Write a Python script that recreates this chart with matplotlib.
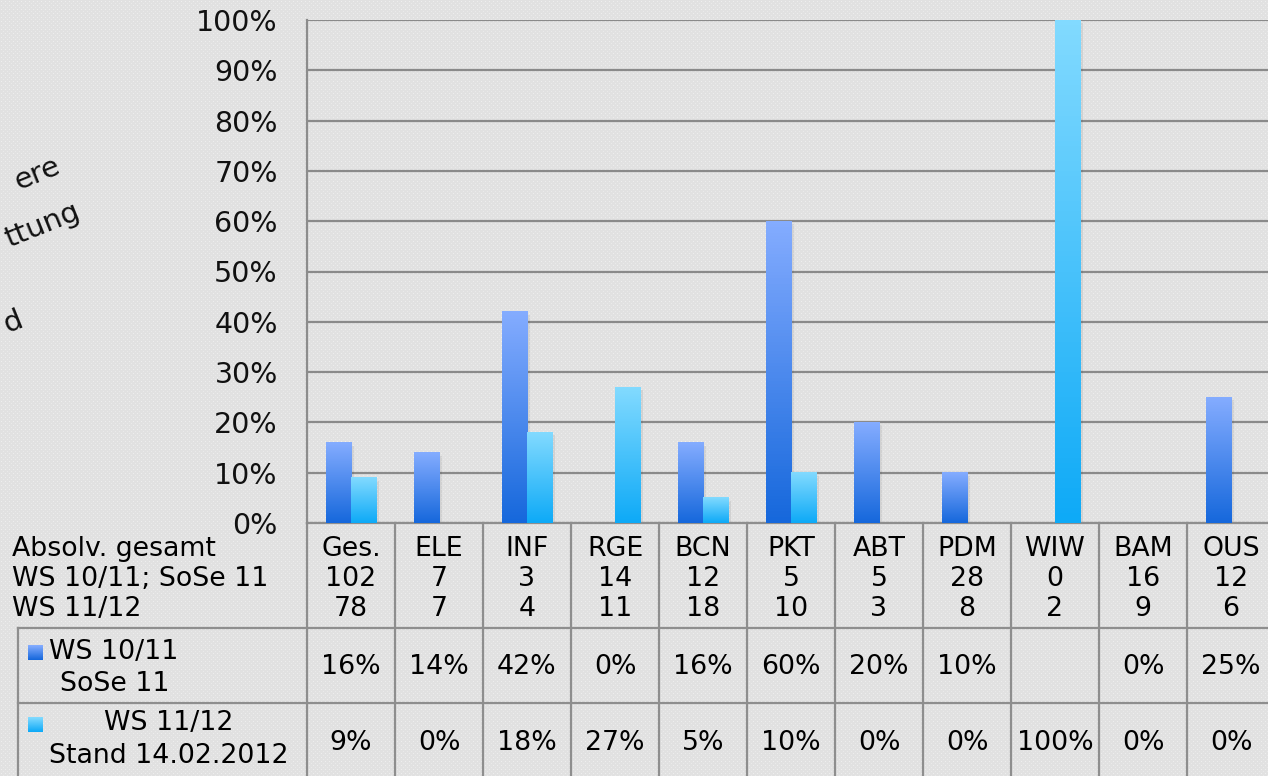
import numpy as np
import matplotlib
matplotlib.use("Agg")
import matplotlib.pyplot as plt
import matplotlib.transforms as mtrans

plt.rcParams['font.family'] = ['DejaVu Sans']

# data
cats = ['Ges.', 'ELE', 'INF', 'RGE', 'BCN', 'PKT', 'ABT', 'PDM', 'WIW', 'BAM', 'OUS']
count_ws1011 = [102, 7, 3, 14, 12, 5, 5, 28, 0, 16, 12]
count_ws1112 = [78, 7, 4, 11, 18, 10, 3, 8, 2, 9, 6]
pct_ws1011 = [16, 14, 42, 0, 16, 60, 20, 10, None, 0, 25]
pct_ws1112 = [9, 0, 18, 27, 5, 10, 0, 0, 100, 0, 0]
yticks = list(range(0, 101, 10))

W, H = 1268, 776
fig = plt.figure(figsize=(W / 100, H / 100), dpi=100)
fig.patch.set_facecolor('#e4e4e4')

# dotted background texture
bg = np.full((H, W, 3), 0.885)
bg[1::4, 1::4] = 0.935
bg[3::4, 3::4] = 0.92
fig.figimage(bg, 0, 0, zorder=-10)

# main axes (extends past right edge like the original slide)
ax = fig.add_axes([307 / W, 1 - 523 / H, 968 / W, 503 / H])
ax.set_zorder(2)
ax.patch.set_alpha(0)
ax.set_xlim(0, len(cats))
ax.set_ylim(0, 100)
ax.set_yticks(yticks)
ax.set_yticklabels([f'{v}%' for v in yticks], fontsize=20.5, color='#111111')
ax.tick_params(axis='y', length=0, pad=21)
ax.set_xticks([])
for s in ['top', 'right', 'bottom']:
    ax.spines[s].set_visible(False)
ax.spines['left'].set_color('#8c8c8c')
ax.spines['left'].set_linewidth(1.6)
ax.grid(axis='y', color='#8a8a8a', linewidth=1.6, zorder=1)
ax.set_axisbelow(True)

bw = 0.286
dark_grad = ['#1668dc', '#84acff']
light_grad = ['#0eaaf7', '#82daff']


def grad_bar(x0, h, cols):
    if not h:
        return
    cmap = matplotlib.colors.LinearSegmentedColormap.from_list('g', cols)
    # soft shadow
    ax.add_patch(plt.Rectangle((x0 + 0.03, -0.6), bw, h, color='#000000',
                               alpha=0.07, lw=0, zorder=2))
    ax.imshow(np.linspace(0, 1, 100).reshape(-1, 1), cmap=cmap, origin='lower',
              extent=(x0, x0 + bw, 0, h), aspect='auto', zorder=3)


for i in range(len(cats)):
    c = i + 0.5
    grad_bar(c - bw, pct_ws1011[i], dark_grad)
    grad_bar(c, pct_ws1112[i], light_grad)
ax.set_xlim(0, len(cats))
ax.set_ylim(0, 100)

# table below chart
tr = mtrans.blended_transform_factory(ax.transData, ax.transAxes)
trf = mtrans.blended_transform_factory(fig.transFigure, ax.transAxes)
lc = '#8e8e8e'
y_ax = lambda p: (523 - p) / 503.0

ax.plot([0, len(cats)], [0, 0], transform=tr, color=lc, lw=1.6, clip_on=False)
for y in [628, 703]:
    ax.plot([18 / W, 1], [y_ax(y), y_ax(y)], transform=trf, color=lc, lw=1.6, clip_on=False)
ax.plot([18 / W, 18 / W], [y_ax(628), y_ax(776)], transform=trf, color=lc, lw=1.6, clip_on=False)
for k in range(len(cats) + 1):
    ax.plot([k, k], [0, y_ax(776)], transform=tr, color=lc, lw=1.6, clip_on=False)

fs = 19.3
for i in range(len(cats)):
    c = i + 0.5
    ax.text(c, y_ax(549), cats[i], transform=tr, ha='center', va='center', fontsize=fs)
    ax.text(c, y_ax(579), str(count_ws1011[i]), transform=tr, ha='center', va='center', fontsize=fs)
    ax.text(c, y_ax(609), str(count_ws1112[i]), transform=tr, ha='center', va='center', fontsize=fs)
    if pct_ws1011[i] is not None:
        ax.text(c, y_ax(667), f'{pct_ws1011[i]}%', transform=tr, ha='center', va='center', fontsize=fs)
    ax.text(c, y_ax(743), f'{pct_ws1112[i]}%', transform=tr, ha='center', va='center', fontsize=fs)

row_labels = ['Absolv. gesamt', 'WS 10/11; SoSe 11', 'WS 11/12']
for lab, y in zip(row_labels, [549, 579, 609]):
    fig.text(12 / W, 1 - y / H, lab, ha='left', va='center', fontsize=fs)

# legend keys
for y0, cols in [(645, dark_grad), (717, light_grad)]:
    lax = fig.add_axes([28 / W, 1 - (y0 + 15) / H, 15 / W, 15 / H])
    lax.imshow(np.linspace(0, 1, 20).reshape(-1, 1),
               cmap=matplotlib.colors.LinearSegmentedColormap.from_list('l', cols),
               origin='lower', aspect='auto')
    lax.axis('off')
fig.text(49 / W, 1 - 652 / H, 'WS 10/11', ha='left', va='center', fontsize=fs)
fig.text(60 / W, 1 - 684 / H, 'SoSe 11', ha='left', va='center', fontsize=fs)
fig.text(169 / W, 1 - 723 / H, 'WS 11/12', ha='center', va='center', fontsize=fs)
fig.text(49 / W, 1 - 756 / H, 'Stand 14.02.2012', ha='left', va='center', fontsize=fs)

# rotated fragments of slide text at left edge
for txt, x, y in [('ere', 62, 172), ('ttung', 82, 218), ('d', 25, 326)]:
    fig.text(x / W, 1 - y / H, txt, ha='right', va='baseline', rotation=22,
             rotation_mode='anchor', fontsize=21, color='#111111')

fig.savefig('out.png', dpi=100, facecolor=fig.get_facecolor())
